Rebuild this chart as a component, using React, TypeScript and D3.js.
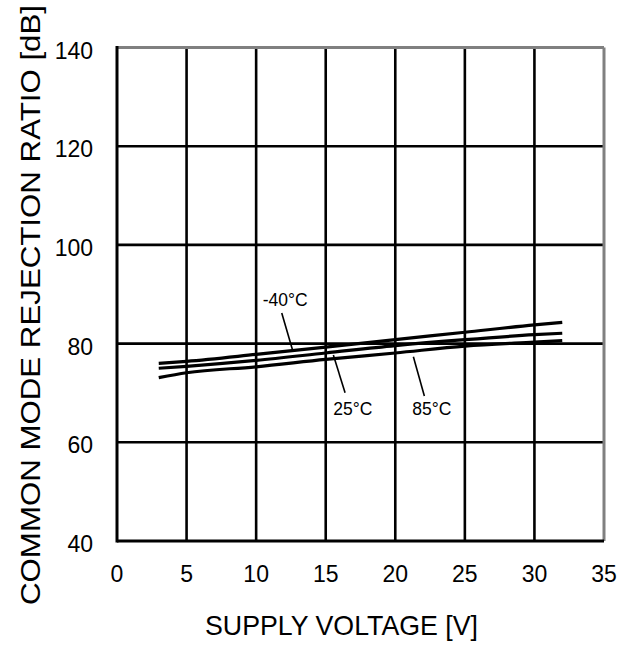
import React from "react";
import * as d3 from "d3";

const voltages = [3, 5, 10, 15, 20, 25, 30, 32];
const seriesM40 = [76.0, 76.4, 77.8, 79.3, 80.8, 82.3, 83.8, 84.3];
const series25 = [75.0, 75.4, 76.6, 78.1, 79.6, 80.8, 81.8, 82.1];
const series85 = [73.1, 74.1, 75.3, 76.8, 78.1, 79.5, 80.3, 80.6];
const xTicks = [0, 5, 10, 15, 20, 25, 30, 35];
const yTicks = [40, 60, 80, 100, 120, 140];

const labels = [
  { text: "-40°C", lx: 10.47, ly: 87.6, from: [11.84, 86.2], to: [12.6, 78.85] },
  { text: "25°C", lx: 15.55, ly: 65.5, from: [16.39, 70.05], to: [15.55, 77.69] },
  { text: "85°C", lx: 21.22, ly: 65.5, from: [22.09, 69.4], to: [21.3, 77.35] },
];

const W = 632;
const H = 648;
const FONT = "Liberation Sans, Arial, sans-serif";

export default function App() {
  const x = d3.scaleLinear().domain([0, 35]).range([117, 604]);
  const y = d3.scaleLinear().domain([40, 140]).range([541, 47.5]);
  const line = d3
    .line<number>()
    .x((_, i) => x(voltages[i]))
    .y((d) => y(d))
    .curve(d3.curveMonotoneX);
  const series = [seriesM40, series25, series85];

  return (
    <svg width={W} height={H} style={{ position: "absolute", left: 0, top: 0 }}>
      <rect width={W} height={H} fill="#fff" />
      {xTicks.slice(1, -1).map((t) => (
        <line key={"gx" + t} x1={x(t)} x2={x(t)} y1={y(140)} y2={y(40)} stroke="#000" strokeWidth={2.6} />
      ))}
      {yTicks.slice(1, -1).map((t) => (
        <line key={"gy" + t} x1={x(0)} x2={x(35)} y1={y(t)} y2={y(t)} stroke="#000" strokeWidth={2.6} />
      ))}
      {/* frame */}
      <line x1={x(0)} x2={x(35)} y1={y(140)} y2={y(140)} stroke="#808080" strokeWidth={3} />
      <line x1={x(35)} x2={x(35)} y1={y(140)} y2={y(40)} stroke="#808080" strokeWidth={3} />
      <line x1={x(0)} x2={x(35)} y1={y(40)} y2={y(40)} stroke="#000" strokeWidth={3} />
      <line x1={x(0)} x2={x(0)} y1={y(140) - 1.5} y2={y(40) + 1.5} stroke="#000" strokeWidth={3} />
      {series.map((s, i) => (
        <path key={i} d={line(s) || ""} fill="none" stroke="#000" strokeWidth={3.2} />
      ))}
      {labels.map((l) => (
        <g key={l.text}>
          <line x1={x(l.from[0])} y1={y(l.from[1])} x2={x(l.to[0])} y2={y(l.to[1])} stroke="#000" strokeWidth={1.6} />
          <text x={x(l.lx)} y={y(l.ly)} fontFamily={FONT} fontSize={17.5} fill="#000">
            {l.text}
          </text>
        </g>
      ))}
      {xTicks.map((t) => (
        <text key={"tx" + t} x={x(t)} y={582} textAnchor="middle" fontFamily={FONT} fontSize={23} fill="#000">
          {t}
        </text>
      ))}
      {yTicks.map((t) => (
        <text key={"ty" + t} x={93} y={y(t) + 11} textAnchor="end" fontFamily={FONT} fontSize={23} fill="#000">
          {t}
        </text>
      ))}
      <text x={205} y={635} fontFamily={FONT} fontSize={28} textLength={273} lengthAdjust="spacingAndGlyphs" fill="#000">
        SUPPLY VOLTAGE [V]
      </text>
      <text
        transform="translate(40,605) rotate(-90)"
        x={0}
        y={0}
        fontFamily={FONT}
        fontSize={28}
        textLength={600}
        lengthAdjust="spacingAndGlyphs"
        fill="#000"
      >
        COMMON MODE REJECTION RATIO [dB]
      </text>
    </svg>
  );
}
